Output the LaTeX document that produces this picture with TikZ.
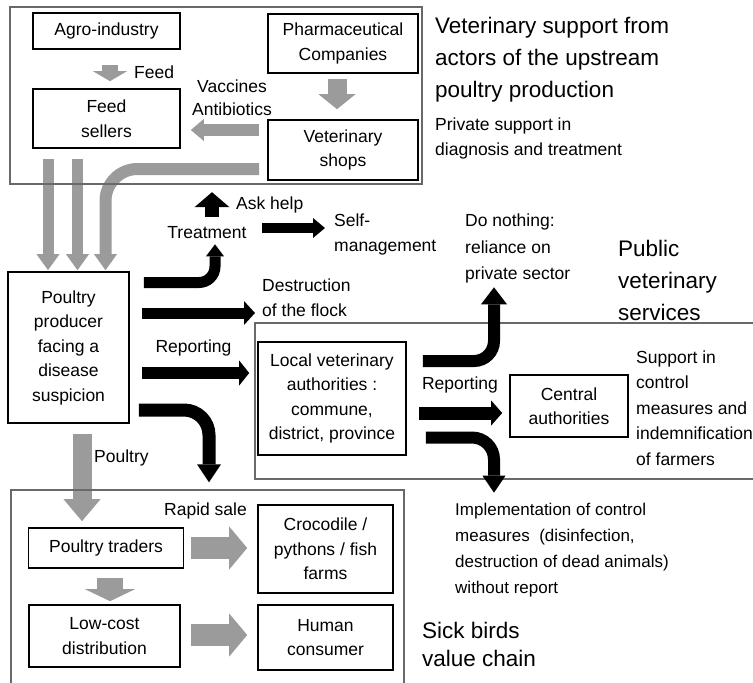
\documentclass[tikz,border=0pt]{standalone}
\usepackage{fontspec}
\setmainfont{Liberation Sans}
\usetikzlibrary{arrows.meta}
\definecolor{flowgray}{RGB}{155,155,155}
\definecolor{framegray}{RGB}{105,105,105}
\newcommand{\bodyfont}{\fontsize{17.5}{24.5}\selectfont}
\newcommand{\headfont}{\fontsize{22.5}{32}\selectfont}

\begin{document}
\begin{tikzpicture}[x=1pt, y=-1pt,
  box/.style={draw=black, line width=1.6pt, inner sep=0pt, align=center, font=\bodyfont},
  group/.style={draw=framegray, line width=1.4pt, inner sep=0pt},
  lbl/.style={inner sep=0pt, font=\bodyfont},
  headlbl/.style={inner sep=0pt, font=\headfont},
  flow/.style n args={3}{draw=flowgray, line width=#1,
    -{Triangle[width=#2, length=#3, line width=0pt]}},
  act/.style n args={3}{draw=black, line width=#1,
    -{Triangle[width=#2, length=#3, line width=0pt]}},
]
\useasboundingbox (0,0) rectangle (753,683);
\clip (0,0) rectangle (753,683);

% actor boxes
\node[box, minimum width=147pt, minimum height=36pt] (agro) at (106.5,31) {Agro-industry};
\node[box, minimum width=150pt, minimum height=59pt] (pharma) at (343,43.5) {Pharmaceutical\\Companies};
\node[box, minimum width=147pt, minimum height=59pt] (feed) at (106.5,118.5) {Feed\\sellers};
\node[box, minimum width=150pt, minimum height=60pt] (vetshop) at (343,150) {Veterinary\\shops};
\node[box, minimum width=121pt, minimum height=151pt] (producer) at (68.5,347.5) {Poultry\\producer\\facing a\\disease\\suspicion};
\node[box, minimum width=148pt, minimum height=113pt] (local) at (332,398.5) {Local veterinary\\authorities :\\commune,\\district, province};
\node[box, minimum width=118pt, minimum height=62pt] (central) at (569,406) {Central\\authorities};
\node[box, minimum width=155pt, minimum height=40pt] (traders) at (106,548) {Poultry traders};
\node[box, minimum width=151pt, minimum height=62pt] (lowcost) at (104.5,636) {Low-cost\\distribution};
\node[box, minimum width=135pt, minimum height=88pt] (croc) at (325.5,549) {Crocodile /\\pythons / fish\\farms};
\node[box, minimum width=135pt, minimum height=65pt] (human) at (325.5,637.5) {Human\\consumer};

% labels
\node[lbl, anchor=west] (feedlbl) at (134,72) {Feed};
\node[lbl, align=center, font=\fontsize{17.5}{23}\selectfont] (vacc) at (232,98) {Vaccines\\Antibiotics};
\node[lbl] (treat) at (207,233) {Treatment};
\node[lbl, anchor=west] (askhelp) at (236,205) {Ask help};
\node[lbl, anchor=west, align=left] (self) at (334,234.5) {Self-\\management};
\node[lbl, anchor=west, align=left] (destr) at (262,297.5) {Destruction\\of the flock};
\node[lbl] (rep1) at (193.5,348) {Reporting};
\node[lbl, anchor=west, align=left, font=\fontsize{17.5}{26.5}\selectfont] (nothing) at (465,248.5) {Do nothing:\\reliance on\\private sector};
\node[headlbl, anchor=west, align=left] (publbl) at (618,280) {Public\\veterinary\\services};
\node[lbl] (rep2) at (460,385) {Reporting};
\node[lbl, anchor=west, align=left, font=\fontsize{17.5}{25.5}\selectfont] (support) at (636,408) {Support in\\control\\measures and\\indemnification\\of farmers};
\node[lbl, anchor=west] (poultrylbl) at (94,458) {Poultry};
\node[lbl] (rapid) at (205.5,511) {Rapid sale};
\node[lbl, anchor=west, align=left, font=\fontsize{17}{26}\selectfont] (impl) at (455,550) {Implementation of control\\measures\ \ (disinfection,\\destruction of dead animals)\\without report};
\node[headlbl, anchor=west, align=left, font=\fontsize{22.5}{28}\selectfont] (sicklbl) at (422,644) {Sick birds\\value chain};
\node[headlbl, anchor=west, align=left] (uplbl) at (435,60) {Veterinary support from\\actors of the upstream\\poultry production};
\node[lbl, anchor=west, align=left, font=\fontsize{17.5}{25}\selectfont] (privlbl) at (435,138) {Private support in\\diagnosis and treatment};

% flows of goods and inputs (grey)
\draw[flow={16pt}{34pt}{10pt}] ([xshift=3.5pt,yshift=-15pt]agro.south) -- ([xshift=3.5pt,yshift=7pt]feed.north);
\draw[flow={19pt}{37pt}{15pt}] ([xshift=-6pt,yshift=-5pt]pharma.south) -- ([xshift=-6pt,yshift=10pt]vetshop.north);
\draw[flow={12pt}{22pt}{13pt}] ([xshift=-8pt,yshift=20pt]vetshop.west) -- ([xshift=10pt,yshift=-11.5pt]feed.east);
\draw[flow={11pt}{23pt}{16pt}] ([xshift=-58.5pt,yshift=-10pt]feed.south) -- ([xshift=-20.5pt,yshift=1pt]producer.north);
\draw[flow={11pt}{23pt}{16pt}] ([xshift=-29pt,yshift=-10pt]feed.south) -- ([xshift=9pt,yshift=1pt]producer.north);
\draw[flow={12pt}{23pt}{16pt}, rounded corners=32pt] ([xshift=-8pt,yshift=-19pt]vetshop.west) -| ([xshift=37pt,yshift=1pt]producer.north);
\draw[flow={19pt}{37pt}{22pt}] ([xshift=13.5pt,yshift=-10pt]producer.south) -- ([xshift=-24pt,yshift=6pt]traders.north);
\draw[flow={26pt}{50pt}{12pt}] ([xshift=4pt,yshift=-9pt]traders.south) -- ([xshift=5.5pt,yshift=3pt]lowcost.north);
\draw[flow={22pt}{43pt}{18pt}] ([xshift=7pt]traders.east) -- ([xshift=-10pt,yshift=1pt]croc.west);
\draw[flow={22pt}{43pt}{18pt}] ([xshift=10pt,yshift=1pt]lowcost.east) -- ([xshift=-10pt,yshift=2.5pt]human.west);

% group frames
\node[group, minimum width=412pt, minimum height=177pt] (upstream) at (216,95.5) {};
\node[group, minimum width=545pt, minimum height=156pt] (public) at (527.5,401) {};
\node[group, minimum width=393pt, minimum height=230pt] (sick) at (207.5,605) {};

% decisions (black)
\draw[act={11pt}{18pt}{12pt}, rounded corners=16pt] ([xshift=14pt,yshift=65pt]producer.east) -| ([xshift=8pt,yshift=-5pt]treat.south);
\draw[act={14pt}{35pt}{15pt}] ([xshift=5pt,yshift=10pt]treat.north) -- ([xshift=-4pt,yshift=-7.5pt]upstream.south);
\draw[act={10pt}{20pt}{12pt}] ([xshift=15pt,yshift=5pt]treat.east) -- ([xshift=-9pt,yshift=6.5pt]self.west);
\draw[act={11pt}{24pt}{11pt}] ([xshift=12pt,yshift=34.5pt]producer.east) -- ([xshift=-7pt,yshift=-15.5pt]destr.west);
\draw[act={12pt}{25pt}{10pt}] ([xshift=12pt,yshift=-25.5pt]producer.east) -- ([xshift=-8pt,yshift=25.5pt]local.west);
\draw[act={13pt}{24pt}{18pt}, rounded corners=25pt] ([xshift=9pt,yshift=-62.5pt]producer.east) -| ([xshift=1.5pt,yshift=7pt]sick.north);
\draw[act={12pt}{26pt}{17pt}, rounded corners=20pt] ([xshift=16pt,yshift=37.5pt]local.east) -| ([xshift=-33.5pt,yshift=35pt]public.north);
\draw[act={13pt}{25pt}{11pt}] ([xshift=12pt,yshift=-14.5pt]local.east) -- ([xshift=-7pt,yshift=-7pt]central.west);
\draw[act={12pt}{23pt}{17pt}, rounded corners=22pt] ([xshift=19pt,yshift=-39pt]local.east) -| ([xshift=-33.5pt,yshift=-13pt]public.south);
\end{tikzpicture}
\end{document}
